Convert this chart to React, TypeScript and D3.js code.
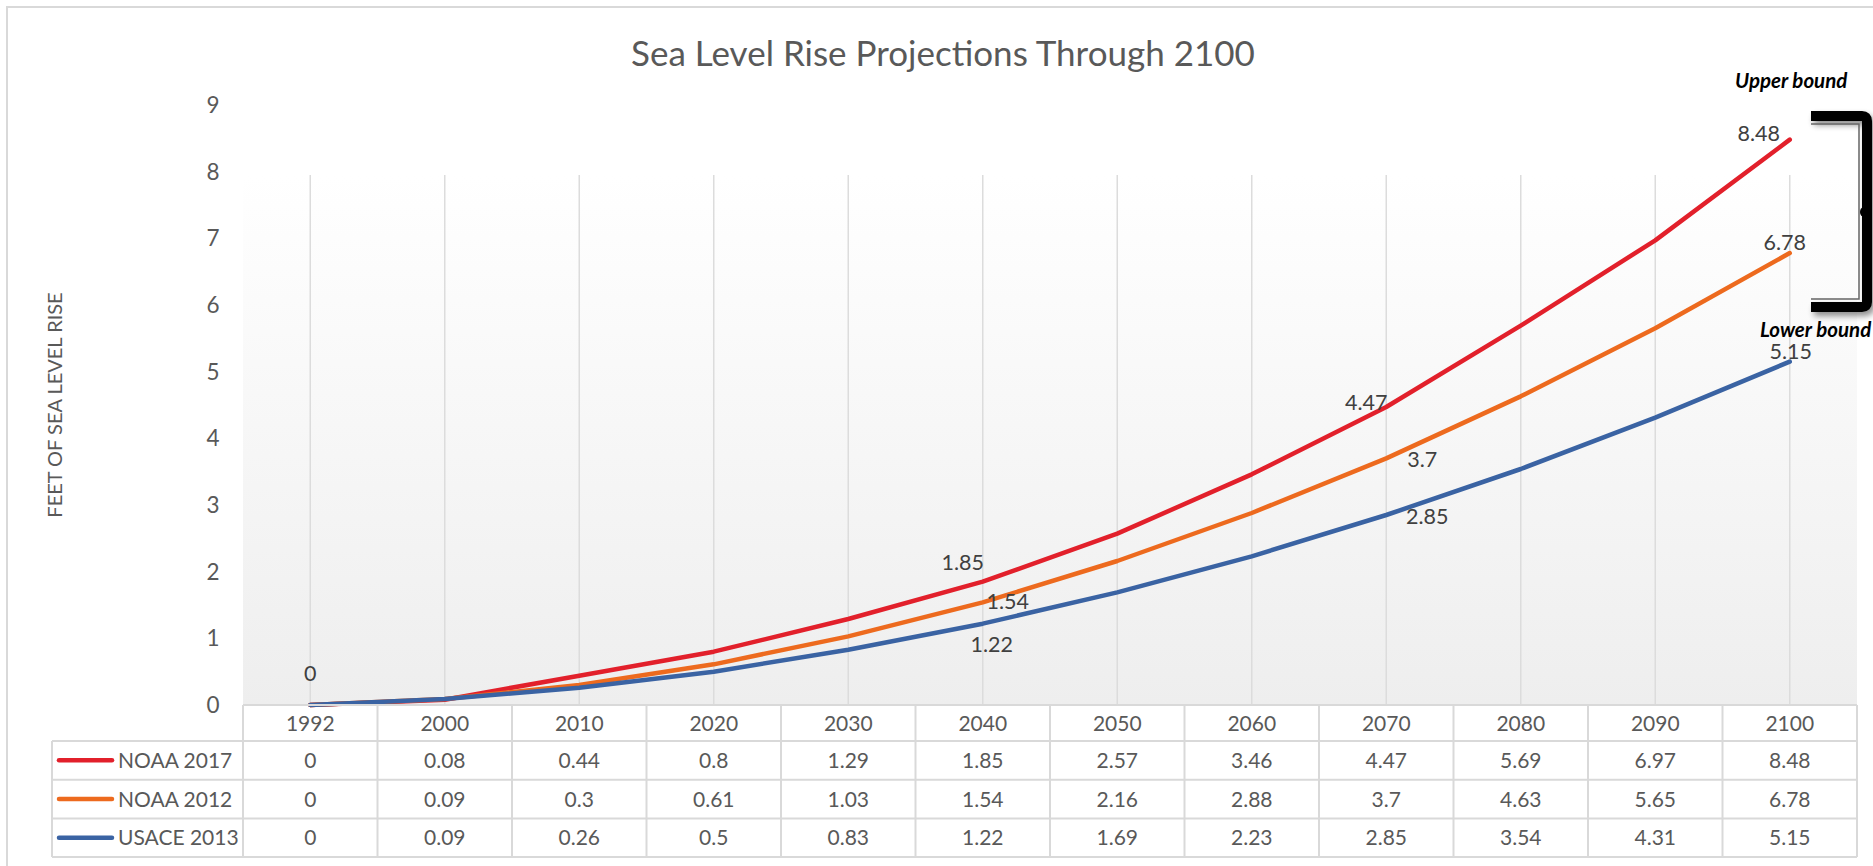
import React from "react";
import * as d3 from "d3";

const categories = ["1992", "2000", "2010", "2020", "2030", "2040", "2050", "2060", "2070", "2080", "2090", "2100"];
const noaa2017 = [0, 0.08, 0.44, 0.8, 1.29, 1.85, 2.57, 3.46, 4.47, 5.69, 6.97, 8.48];
const noaa2012 = [0, 0.09, 0.3, 0.61, 1.03, 1.54, 2.16, 2.88, 3.7, 4.63, 5.65, 6.78];
const usace2013 = [0, 0.09, 0.26, 0.5, 0.83, 1.22, 1.69, 2.23, 2.85, 3.54, 4.31, 5.15];
const seriesNames = ["NOAA 2017", "NOAA 2012", "USACE 2013"];
const seriesValues = [noaa2017, noaa2012, usace2013];
const seriesColors = ["#e2202b", "#ed6a1e", "#3a63a3"];
const yTicks = [0, 1, 2, 3, 4, 5, 6, 7, 8, 9];
const titleText = "Sea Level Rise Projections Through 2100";
const yAxisTitle = "FEET OF SEA LEVEL RISE";
const upperLabel = "Upper bound";
const lowerLabel = "Lower bound";

// which points carry a data label: [series index, category index]
const labeledPoints: [number, number][] = [
  [0, 0], [0, 5], [1, 5], [2, 5], [0, 8], [1, 8], [2, 8], [0, 11], [1, 11], [2, 11],
];
// label placement offsets (layout only)
const labelOffsets: Record<string, [number, number]> = {
  "0-0": [0, -24],
  "0-5": [-20, -12],
  "1-5": [25, 7],
  "2-5": [9, 28],
  "0-8": [-20, 3],
  "1-8": [36, 9],
  "2-8": [41, 9],
  "0-11": [-31, 1],
  "1-11": [-5, -3],
  "2-11": [1, -3],
};

const FONT = "Lato, 'Open Sans', sans-serif";
const W = 1873;
const H = 866;

export default function App() {
  const plotLeft = 243;
  const plotRight = 1857;
  const x = d3.scaleBand<string>().domain(categories).range([plotLeft, plotRight]);
  const bw = x.bandwidth();
  const cx = (c: string) => (x(c) as number) + bw / 2;
  const y = d3.scaleLinear().domain([0, 9]).range([705, 105]);

  const line = d3
    .line<number>()
    .x((_, i) => cx(categories[i]))
    .y((v) => y(v))
    .curve(d3.curveLinear);

  const tableTop = y(0);
  const headerBottom = 741;
  const rowH = 38.7;
  const tableLeft = 52;
  const tableBottom = headerBottom + rowH * seriesNames.length;
  const gridColor = "#d9d9d9";
  const textColor = "#595959";

  return (
    <svg
      width={W}
      height={H}
      style={{ position: "absolute", left: 0, top: 0, background: "#fff" }}
      fontFamily={FONT}
    >
      <defs>
        <linearGradient id="plotbg" x1="0" y1="0" x2="0" y2="1">
          <stop offset="0" stopColor="#ffffff" />
          <stop offset="1" stopColor="#eeeeee" />
        </linearGradient>
        <filter id="shadow" x="-30%" y="-30%" width="160%" height="160%">
          <feGaussianBlur in="SourceAlpha" stdDeviation="3" />
          <feOffset dx="3" dy="4" result="b" />
          <feComponentTransfer>
            <feFuncA type="linear" slope="0.45" />
          </feComponentTransfer>
          <feMerge>
            <feMergeNode />
            <feMergeNode in="SourceGraphic" />
          </feMerge>
        </filter>
      </defs>

      {/* chart border */}
      <rect x={7} y={7} width={W + 20} height={H + 20} fill="#fff" stroke={gridColor} strokeWidth={2} />

      {/* title */}
      <text x={943} y={66} textAnchor="middle" fontSize={35} fill={textColor}>
        {titleText}
      </text>

      {/* plot background */}
      <rect x={plotLeft} y={175} width={plotRight - plotLeft} height={y(0) - 175} fill="url(#plotbg)" />

      {/* vertical gridlines */}
      {categories.map((c) => (
        <line key={c} x1={cx(c)} x2={cx(c)} y1={175} y2={y(0)} stroke="#dcdcdc" strokeWidth={1.5} />
      ))}

      {/* y tick labels */}
      {yTicks.map((t) => (
        <text key={t} x={213} y={y(t)} dy="0.35em" textAnchor="middle" fontSize={22.5} fill={textColor}>
          {t}
        </text>
      ))}

      {/* y axis title */}
      <text
        transform={`translate(62,${(y(0) + y(9)) / 2}) rotate(-90)`}
        textAnchor="middle"
        fontSize={20}
        fill={textColor}
      >
        {yAxisTitle}
      </text>

      {/* series lines */}
      {seriesValues.map((vals, i) => (
        <path
          key={seriesNames[i]}
          d={line(vals) as string}
          fill="none"
          stroke={seriesColors[i]}
          strokeWidth={4.5}
          strokeLinecap="round"
          strokeLinejoin="round"
        />
      ))}

      {/* data labels */}
      {labeledPoints.map(([s, c]) => {
        const [dx, dy] = labelOffsets[`${s}-${c}`];
        const v = seriesValues[s][c];
        return (
          <text
            key={`${s}-${c}`}
            x={cx(categories[c]) + dx}
            y={y(v) + dy}
            textAnchor="middle"
            fontSize={21.5}
            fill="#404040"
          >
            {String(v)}
          </text>
        );
      })}

      {/* data table */}
      <g>
        <line x1={plotLeft} x2={plotRight} y1={tableTop} y2={tableTop} stroke={gridColor} strokeWidth={2} />
        <line x1={tableLeft} x2={plotRight} y1={headerBottom} y2={headerBottom} stroke={gridColor} strokeWidth={2} />
        {seriesNames.map((_, r) => (
          <line
            key={r}
            x1={tableLeft}
            x2={plotRight}
            y1={headerBottom + rowH * (r + 1)}
            y2={headerBottom + rowH * (r + 1)}
            stroke={gridColor}
            strokeWidth={2}
          />
        ))}
        <line x1={tableLeft} x2={tableLeft} y1={headerBottom} y2={tableBottom} stroke={gridColor} strokeWidth={2} />
        {categories.map((c) => (
          <line key={c} x1={x(c)} x2={x(c)} y1={tableTop} y2={tableBottom} stroke={gridColor} strokeWidth={2} />
        ))}
        <line x1={plotRight} x2={plotRight} y1={tableTop} y2={tableBottom} stroke={gridColor} strokeWidth={2} />

        {categories.map((c) => (
          <text key={c} x={cx(c)} y={(tableTop + headerBottom) / 2} dy="0.36em" textAnchor="middle" fontSize={21} fill={textColor}>
            {c}
          </text>
        ))}
        {seriesNames.map((name, r) => {
          const rowMid = headerBottom + rowH * r + rowH / 2;
          return (
            <g key={name}>
              <line x1={59} x2={112} y1={rowMid} y2={rowMid} stroke={seriesColors[r]} strokeWidth={4.5} strokeLinecap="round" />
              <text x={118} y={rowMid} dy="0.36em" fontSize={21} fill={textColor}>
                {name}
              </text>
              {seriesValues[r].map((v, i) => (
                <text key={i} x={cx(categories[i])} y={rowMid} dy="0.36em" textAnchor="middle" fontSize={21} fill={textColor}>
                  {String(v)}
                </text>
              ))}
            </g>
          );
        })}
      </g>

      {/* bracket */}
      <g filter="url(#shadow)">
        <path d="M1811,116 H1862 Q1867,116 1867,121 V302 Q1867,307 1862,307 H1811" fill="none" stroke="#000" strokeWidth={10} />
      </g>
      <path d="M1811,124 H1859 V299 H1811" fill="none" stroke="#666" strokeWidth={1.5} />
      <ellipse cx={1864} cy={212} rx={4} ry={5} fill="#000" />

      <text x={1735} y={88} fontSize={20.5} fontWeight="bold" fontStyle="italic" fill="#000">
        {upperLabel}
      </text>
      <text x={1760} y={337} fontSize={20.5} fontWeight="bold" fontStyle="italic" fill="#000">
        {lowerLabel}
      </text>
    </svg>
  );
}
